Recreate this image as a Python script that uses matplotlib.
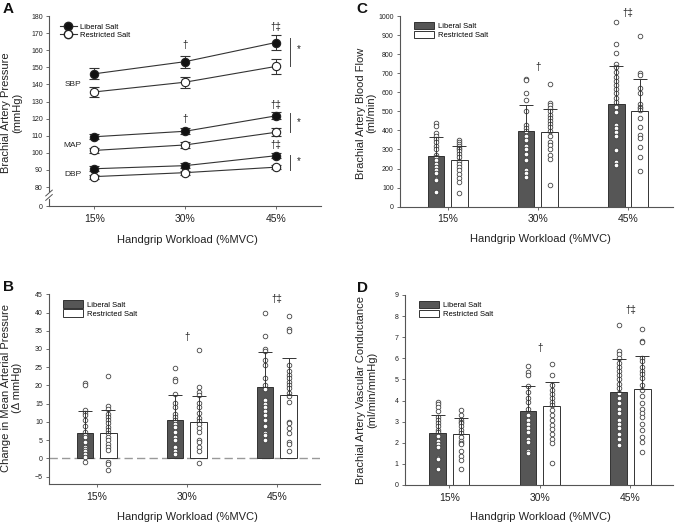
import numpy as np
import matplotlib
matplotlib.use('Agg')
import matplotlib.pyplot as plt
from matplotlib.lines import Line2D
from matplotlib.patches import Patch

plt.rcParams['font.family'] = ['Liberation Sans', 'DejaVu Sans']

workloads = ['15%', '30%', '45%']
xlabel = 'Handgrip Workload (%MVC)'
groups = ['Liberal Salt', 'Restricted Salt']

# Panel A: brachial artery pressure, mean and SEM
sbp_lib = [146.2, 153.3, 164.5]
sbp_lib_err = [3.3, 3.5, 4.4]
sbp_res = [135.6, 141.3, 150.5]
sbp_res_err = [2.8, 3.3, 4.4]
map_lib = [109.4, 112.6, 121.6]
map_lib_err = [1.5, 1.7, 2.0]
map_res = [101.4, 104.6, 112.0]
map_res_err = [1.3, 1.5, 2.4]
dbp_lib = [90.7, 92.5, 98.3]
dbp_lib_err = [1.5, 1.3, 1.5]
dbp_res = [86.1, 88.4, 91.6]
dbp_res_err = [1.2, 1.2, 1.3]

# Panel B: change in mean arterial pressure (mmHg)
dmap_lib = [7.0, 10.4, 19.5]
dmap_lib_sd = [6.1, 7.0, 9.7]
dmap_res = [7.0, 10.1, 17.4]
dmap_res_sd = [6.2, 7.1, 10.2]
dmap_lib_pts = [
    [20.8, 20.0, 13.2, 12.5, 11.8, 10.5, 9.0, 7.3, 6.5, 5.9, 4.6, 3.2, 2.6, 2.1, 1.2, 0.5, -1.1],
    [24.8, 21.8, 21.2, 17.6, 15.3, 14.2, 12.2, 11.4, 10.5, 9.5, 8.7, 7.3, 5.9, 5.0, 3.2, 2.1, 1.2],
    [40.0, 33.6, 30.0, 29.5, 27.0, 25.5, 22.0, 20.0, 19.0, 16.0, 15.0, 14.0, 13.0, 12.0, 10.5, 9.0,
     7.0, 6.5, 5.0],
]
dmap_res_pts = [
    [22.7, 14.3, 13.5, 12.2, 11.3, 10.5, 9.6, 8.7, 7.8, 7.0, 6.0, 5.0, 3.9, 3.0, 2.2, -1.0, -1.6, -3.2],
    [29.7, 19.6, 18.2, 17.3, 15.3, 14.0, 12.4, 11.2, 10.3, 9.3, 8.4, 7.3, 5.0, 4.4, 3.2, 2.0, -1.2],
    [39.0, 35.5, 35.0, 25.5, 24.0, 23.0, 22.0, 21.0, 20.2, 19.2, 18.0, 17.0, 15.5, 10.0, 9.6, 8.2,
     7.0, 4.5, 4.0, 2.0],
]

# Panel C: brachial artery blood flow (ml/min)
flow_lib = [266, 395, 537]
flow_lib_sd = [98, 138, 201]
flow_res = [243, 390, 500]
flow_res_sd = [77, 120, 168]
flow_lib_pts = [
    [437, 425, 388, 372, 355, 340, 320, 300, 272, 262, 245, 225, 210, 195, 175, 145, 140, 78],
    [670, 662, 598, 560, 503, 430, 412, 395, 372, 350, 320, 300, 275, 245, 195, 175, 158],
    [970, 855, 805, 750, 730, 708, 682, 660, 638, 615, 595, 572, 550, 525, 498, 428, 415, 393,
     370, 295, 235, 218],
]
flow_res_pts = [
    [350, 338, 330, 320, 310, 300, 290, 275, 262, 240, 225, 210, 195, 170, 150, 130, 72],
    [643, 545, 533, 518, 500, 480, 465, 448, 432, 420, 395, 370, 340, 325, 300, 272, 250, 112],
    [895, 703, 692, 620, 595, 540, 525, 518, 505, 465, 420, 378, 362, 315, 262, 185],
]

# Panel D: brachial artery vascular conductance (ml/min/mmHg)
fvc_lib = [2.45, 3.52, 4.40]
fvc_lib_sd = [0.85, 1.18, 1.55]
fvc_res = [2.40, 3.74, 4.53]
fvc_res_sd = [0.75, 1.12, 1.57]
fvc_lib_pts = [
    [3.95, 3.85, 3.7, 3.5, 3.2, 3.1, 2.95, 2.8, 2.6, 2.5, 2.3, 2.1, 1.95, 1.8, 1.3, 1.25, 0.75],
    [5.65, 5.35, 5.2, 4.7, 4.4, 4.1, 3.95, 3.6, 3.3, 3.1, 2.9, 2.7, 2.5, 2.2, 2.05, 1.6, 1.5],
    [7.6, 6.35, 6.2, 6.0, 5.8, 5.6, 5.4, 5.2, 5.0, 4.8, 4.6, 4.35, 4.1, 3.9, 3.6, 3.4, 3.1, 2.9,
     2.7, 2.4, 2.2, 1.9],
]
fvc_res_pts = [
    [3.55, 3.3, 3.1, 3.0, 2.95, 2.8, 2.6, 2.45, 2.25, 2.1, 2.0, 1.95, 1.6, 1.35, 1.2, 0.75],
    [5.75, 5.2, 4.75, 4.5, 4.3, 4.1, 3.95, 3.8, 3.55, 3.3, 3.1, 2.85, 2.65, 2.4, 2.2, 2.0, 1.05],
    [7.4, 6.8, 6.75, 6.0, 5.85, 5.6, 5.4, 5.25, 5.05, 4.75, 4.5, 4.2, 3.9, 3.6, 3.4, 3.2, 2.9,
     2.6, 2.25, 2.05, 1.55],
]

DARK = '#565656'
EDGE = '#333333'
AXC = '#555555'
TXT = '#222222'


def style_axes(ax):
    for s in ['top', 'right']:
        ax.spines[s].set_visible(False)
    for s in ['left', 'bottom']:
        ax.spines[s].set_color(AXC)
        ax.spines[s].set_linewidth(0.8)
    ax.tick_params(axis='y', labelsize=5, length=2.5, width=0.6, color=AXC, labelcolor=TXT, pad=2)
    ax.tick_params(axis='x', labelsize=7.5, length=2.5, width=0.6, color=AXC, labelcolor=TXT, pad=3)
    ax.set_xticks(range(3))
    ax.set_xticklabels(workloads)


def set_labels(ax, ylabel, ylab_x, ylab_y, xlab_x, xlab_y):
    # label positions are the right edge of the y label / top of the x label
    ax.set_ylabel(ylabel, fontsize=8, color=TXT, linespacing=1.1)
    ax.yaxis.set_label_coords(ylab_x, ylab_y)
    ax.set_xlabel(xlabel, fontsize=8, color=TXT)
    ax.xaxis.set_label_coords(xlab_x, xlab_y)


def bar_panel(ax, lib, lib_sd, res, res_sd, lib_pts, res_pts, ylim, yticks, xlim, dag_y):
    x = np.arange(3)
    off = 0.13
    w = 0.185
    ax.bar(x - off, lib, w, color=DARK, edgecolor=EDGE, linewidth=0.7, zorder=2)
    ax.bar(x + off, res, w, color='white', edgecolor=EDGE, linewidth=0.7, zorder=2)
    ax.errorbar(x - off, lib, yerr=[np.zeros(3), lib_sd], fmt='none', ecolor='#333333',
                elinewidth=0.7, capsize=5.2, capthick=0.7, zorder=4)
    ax.errorbar(x + off, res, yerr=[np.zeros(3), res_sd], fmt='none', ecolor='#333333',
                elinewidth=0.7, capsize=5.2, capthick=0.7, zorder=4)
    for i in range(3):
        ax.scatter(np.full(len(lib_pts[i]), i - off), lib_pts[i], s=11, facecolor='white',
                   edgecolor='#444444', linewidth=0.6, zorder=3)
        ax.scatter(np.full(len(res_pts[i]), i + off), res_pts[i], s=11, facecolor='white',
                   edgecolor='#444444', linewidth=0.6, zorder=3)
    ax.set_xlim(*xlim)
    ax.set_ylim(*ylim)
    ax.set_yticks(yticks)
    style_axes(ax)
    ax.text(1, dag_y[0], '\u2020', ha='center', va='center', fontsize=7, color=TXT)
    ax.text(2, dag_y[1], '\u2020\u2021', ha='center', va='center', fontsize=7, color=TXT,
            clip_on=False)
    handles = [Patch(facecolor=DARK, edgecolor=EDGE, linewidth=0.7),
               Patch(facecolor='white', edgecolor=EDGE, linewidth=0.7)]
    ax.legend(handles, groups, loc='upper left', bbox_to_anchor=(0.03, 1.0), frameon=False,
              fontsize=5.5, handlelength=2.6, handleheight=1.1, labelspacing=0.1,
              handletextpad=0.5, borderaxespad=0.4)


def pressure_panel(ax):
    x = np.arange(3)
    kw = dict(color='#333333', linewidth=0.8, markersize=6, markeredgewidth=0.8,
              markeredgecolor='#222222', ecolor='#333333', elinewidth=0.7, capsize=3.6,
              capthick=0.7)
    for vals, errs in [(sbp_lib, sbp_lib_err), (map_lib, map_lib_err), (dbp_lib, dbp_lib_err)]:
        ax.errorbar(x, vals, yerr=errs, fmt='-o', markerfacecolor='#111111', zorder=3, **kw)
    for vals, errs in [(sbp_res, sbp_res_err), (map_res, map_res_err), (dbp_res, dbp_res_err)]:
        ax.errorbar(x, vals, yerr=errs, fmt='-o', markerfacecolor='white', zorder=3, **kw)

    y0 = 68.9  # where the broken axis shows 0
    ax.set_xlim(-0.5, 2.5)
    ax.set_ylim(y0, 180)
    ax.set_yticks([y0] + list(range(80, 181, 10)))
    ax.set_yticklabels(['0'] + [str(v) for v in range(80, 181, 10)])
    style_axes(ax)

    # axis break
    ax.spines['left'].set_bounds(77.5, 180)
    tr = ax.get_yaxis_transform()
    ax.plot([0, 0], [y0, 73.0], color=AXC, lw=0.8, transform=tr, clip_on=False)
    ax.plot([-0.012, 0.012], [72.2, 75.6], color=AXC, lw=0.7, transform=tr, clip_on=False)
    ax.plot([-0.012, 0.012], [74.8, 78.2], color=AXC, lw=0.7, transform=tr, clip_on=False)

    for name, yv in [('SBP', 139.7), ('MAP', 104.3), ('DBP', 87.4)]:
        ax.text(-0.24, yv, name, ha='center', va='center', fontsize=6, color=TXT)
    for yv in [163.0, 119.5]:
        ax.text(1, yv, '\u2020', ha='center', va='center', fontsize=7, color=TXT)
    for yv in [173.4, 128.0, 104.3]:
        ax.text(2, yv, '\u2020\u2021', ha='center', va='center', fontsize=7, color=TXT)
    for lo, hi, ys in [(151, 167.3, 160.5), (112.3, 123.1, 117.8), (90, 98.7, 95.4)]:
        ax.plot([2.155, 2.155], [lo, hi], color='#444444', lw=0.7)
        ax.text(2.254, ys, '*', ha='center', va='center', fontsize=7, color=TXT)

    handles = [Line2D([], [], color='#333333', lw=0.8, marker='o', markersize=6,
                      markerfacecolor='#111111', markeredgecolor='#222222'),
               Line2D([], [], color='#333333', lw=0.8, marker='o', markersize=6,
                      markerfacecolor='white', markeredgecolor='#222222')]
    ax.legend(handles, groups, loc='upper left', bbox_to_anchor=(0.02, 0.99), frameon=False,
              fontsize=5.5, handlelength=2.2, labelspacing=0.15, handletextpad=0.4,
              borderaxespad=0.3)


fig = plt.figure(figsize=(6.76, 5.23), dpi=100)
axA = fig.add_axes([0.0725, 0.6061, 0.4025, 0.3633])
axC = fig.add_axes([0.5917, 0.6048, 0.4039, 0.3646])
axB = fig.add_axes([0.0725, 0.0740, 0.4010, 0.3633])
axD = fig.add_axes([0.5990, 0.0727, 0.3966, 0.3633])

pressure_panel(axA)
set_labels(axA, 'Brachial Artery Pressure\n(mmHg)', -0.099, 0.49, 0.507, -0.155)

bar_panel(axC, flow_lib, flow_lib_sd, flow_res, flow_res_sd, flow_lib_pts, flow_res_pts,
          (0, 1000), range(0, 1001, 100), (-0.53, 2.5), (734, 1017))
set_labels(axC, 'Brachial Artery Blood Flow\n(ml/min)', -0.086, 0.49, 0.513, -0.143)

bar_panel(axB, dmap_lib, dmap_lib_sd, dmap_res, dmap_res_sd, dmap_lib_pts, dmap_res_pts,
          (-7.1, 45), range(-5, 46, 5), (-0.53, 2.48), (33.2, 43.6))
axB.axhline(0, color='#999999', lw=1.0, ls=(0, (6, 3)), zorder=1)
set_labels(axB, 'Change in Mean Arterial Pressure\n(\u0394 mmHg)', -0.1, 0.507, 0.509, -0.146)

bar_panel(axD, fvc_lib, fvc_lib_sd, fvc_res, fvc_res_sd, fvc_lib_pts, fvc_res_pts,
          (0, 9), range(0, 10), (-0.49, 2.47), (6.5, 8.3))
set_labels(axD, 'Brachial Artery Vascular Conductance\n(ml/min/mmHg)', -0.104, 0.5, 0.504,
           -0.142)

for lab, px, py in [('A', 8, 9), ('C', 362, 9), ('B', 8, 287), ('D', 362, 288)]:
    fig.text(px / 676, 1 - py / 523, lab, fontsize=11, fontweight='bold', ha='center',
             va='center', color='#111111')

plt.savefig('out.png', dpi=100)
